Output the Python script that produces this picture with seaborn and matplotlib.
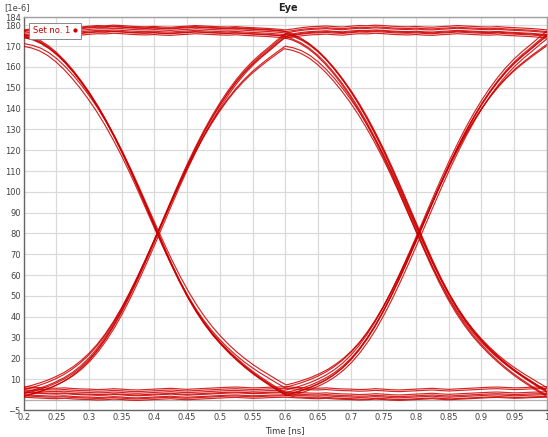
import numpy as np
import pandas as pd
import matplotlib
matplotlib.use('Agg')
import matplotlib.pyplot as plt
import seaborn as sns
from matplotlib.lines import Line2D

# one transition window (0.2 - 0.6 ns) [1e-6]
edge_time = [0.2, 0.2125, 0.225, 0.2375, 0.25, 0.2625, 0.275, 0.2875, 0.3, 0.3125,
             0.325, 0.3375, 0.35, 0.3625, 0.375, 0.3875, 0.4, 0.4125, 0.425, 0.4375,
             0.45, 0.4625, 0.475, 0.4875, 0.5, 0.5125, 0.525, 0.5375, 0.55, 0.5625,
             0.575, 0.5875, 0.6]
fall_edge = [175, 174, 172.2, 169.7, 166.5, 162.6, 158.1, 153, 147.4, 141.2,
             134.4, 127, 119.1, 110.6, 101.7, 92.6, 83.4, 74.3, 65.5, 57.3,
             49.8, 43.1, 37.2, 32, 27.5, 23.4, 19.7, 16.3, 13.2, 10.4, 7.8, 5.3, 3]
fall_edge_short = [170, 169.2, 167.8, 165.6, 162.6, 158.9, 154.6, 149.8, 144.5, 138.7,
                   132.3, 125.3, 117.8, 109.7, 101.1, 92.2, 83.3, 74.6, 66.2, 58.4,
                   51.2, 44.7, 38.9, 33.8, 29.3, 25.3, 21.7, 18.5, 15.6, 13, 10.6, 8.2, 6]
rise_edge = [2.5, 3.5, 4.7, 6.1, 7.8, 9.8, 12.3, 15.4, 19.2, 23.8,
             29.2, 35.4, 42.4, 50.1, 58.4, 67.1, 76.1, 85.3, 94.5, 103.5,
             112.2, 120.4, 128.1, 135.2, 141.7, 147.6, 152.9, 157.6, 161.7, 165.3,
             168.5, 171.9, 175]
rise_edge_short = [6, 7, 8.2, 9.6, 11.3, 13.3, 15.8, 18.8, 22.4, 26.7,
                   31.8, 37.7, 44.4, 51.8, 59.8, 68.2, 76.9, 85.8, 94.6, 103.2,
                   111.5, 119.3, 126.6, 133.3, 139.4, 144.9, 149.8, 154.1, 157.9, 161.2,
                   164.3, 167.2, 170]
high_flat = [175.5, 176.0, 176.6, 177.0, 177.2, 177.4, 177.1, 176.9, 177.3, 177.6,
             177.5, 177.8, 177.6, 177.3, 177.1, 177.0, 177.2, 176.9, 176.8, 177.1,
             177.3, 177.6, 177.4, 177.2, 177.0, 176.9, 177.1, 176.8, 176.6, 176.4,
             176.2, 175.9, 175.5]
low_flat = [2.5, 2.3, 2.1, 1.9, 1.8, 2.0, 1.7, 1.5, 1.4, 1.2,
            1.3, 1.6, 1.4, 1.1, 1.0, 1.2, 1.4, 1.6, 1.8, 1.5,
            1.3, 1.5, 1.7, 1.9, 2.1, 2.3, 2.4, 2.2, 2.0, 2.1,
            2.3, 2.4, 2.5]

# each trace = first UI segment + second UI segment
seg_first = ['H', 'H', 'H', 'H', 'H', 'L', 'L', 'L', 'L', 'L',
             'F', 'F', 'Fs', 'R', 'R', 'Rs',
             'H', 'H', 'R', 'R', 'L', 'L', 'F', 'F', 'H', 'L', 'Fs', 'Rs']
seg_second = ['H', 'H', 'H', 'H', 'H', 'L', 'L', 'L', 'L', 'L',
              'R', 'R', 'Rs', 'F', 'F', 'Fs',
              'F', 'F', 'H', 'H', 'R', 'R', 'L', 'L', 'F', 'R', 'Rs', 'Fs']
level_offset = [1.5, 0.0, -0.8, 2.3, -1.6, 0.0, -1.2, 1.4, 3.0, 3.8,
                0.0, -1.0, 0.0, 0.5, -1.0, 0.0,
                0.8, -0.6, 1.0, -0.4, -0.5, 1.0, 0.6, -0.8, 1.8, 2.2, 1.2, -1.2]
time_shift = [0.0, 0.0, 0.0, 0.0, 0.0, 0.0, 0.0, 0.0, 0.0, 0.0,
              0.0, 0.002, -0.001, 0.001, -0.002, 0.0,
              0.0015, -0.001, 0.0, 0.002, -0.0015, 0.001, 0.0, 0.0025, -0.002, 0.0, 0.0015, -0.0015]

x_ticks = [0.2, 0.25, 0.3, 0.35, 0.4, 0.45, 0.5, 0.55, 0.6,
           0.65, 0.7, 0.75, 0.8, 0.85, 0.9, 0.95, 1.0]
x_labels = ['0.2', '0.25', '0.3', '0.35', '0.4', '0.45', '0.5', '0.55', '0.6',
            '0.65', '0.7', '0.75', '0.8', '0.85', '0.9', '0.95', '1']
y_ticks = [-5, 10, 20, 30, 40, 50, 60, 70, 80, 90, 100, 110, 120,
           130, 140, 150, 160, 170, 180, 184]

segments = {'F': fall_edge, 'Fs': fall_edge_short, 'R': rise_edge,
            'Rs': rise_edge_short, 'H': high_flat, 'L': low_flat}

UI = 0.4
frames = []
for i, (a, b, off, dt) in enumerate(zip(seg_first, seg_second, level_offset, time_shift)):
    t = np.concatenate([edge_time, np.array(edge_time[1:]) + UI]) + dt
    v = np.concatenate([segments[a], segments[b][1:]]) + off
    frames.append(pd.DataFrame({'time': t, 'value': v, 'trace': i}))
df = pd.concat(frames, ignore_index=True)

sns.set_style('white')
plt.rcParams['font.family'] = ['DejaVu Sans']

fig = plt.figure(figsize=(5.48, 4.37), dpi=100)
ax = fig.add_axes([0.043, 0.061, 0.955, 0.9])

ax.axhline(0, color='#b0b0b0', lw=0.9, zorder=1)
sns.lineplot(data=df, x='time', y='value', units='trace', estimator=None,
             color='#cc0000', lw=0.85, alpha=0.85, ax=ax, legend=False, zorder=3)

ax.set_xlim(0.2, 1.0)
ax.set_ylim(-5, 184)
ax.set_xticks(x_ticks)
ax.set_xticklabels(x_labels)
ax.set_yticks(y_ticks)
ax.grid(True, color='#dadada', lw=0.9)
ax.set_axisbelow(True)
ax.tick_params(axis='both', direction='in', length=3, width=0.6, pad=2,
               labelsize=6, colors='#444444')
for s in ['left', 'bottom']:
    ax.spines[s].set_color('#666666')
    ax.spines[s].set_linewidth(1.0)
for s in ['top', 'right']:
    ax.spines[s].set_color('#a0a0a0')
    ax.spines[s].set_linewidth(1.0)

ax.set_xlabel('Time [ns]', fontsize=6, color='#333333', labelpad=3)
ax.set_ylabel('')
fig.text(0.525, 0.982, 'Eye', fontsize=7, fontweight='bold', ha='center', va='center', color='#222222')
fig.text(0.008, 0.982, '[1e-6]', fontsize=6, ha='left', va='center', color='#444444')

handle = Line2D([], [], color='#cc0000', marker='o', markersize=2, linestyle='none')
leg = ax.legend([handle], ['Set no. 1'], loc='upper left', markerfirst=False,
                fontsize=6, labelcolor='#cc0000', fancybox=False, framealpha=1,
                edgecolor='#888888', handlelength=0.6, handletextpad=0.3,
                borderpad=0.4, borderaxespad=0.7)
leg.get_frame().set_linewidth(0.7)
leg.set_zorder(5)

fig.savefig('out.png', dpi=100)
